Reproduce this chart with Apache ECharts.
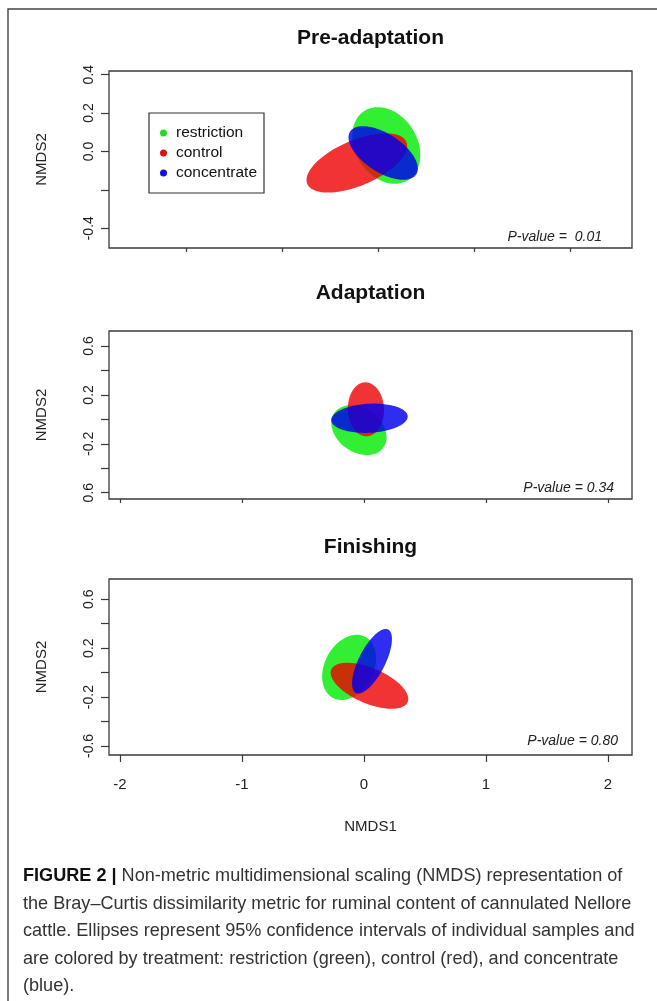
<!DOCTYPE html>
<html>
<head>
<meta charset="utf-8">
<script src="https://cdn.jsdelivr.net/npm/echarts@6/dist/echarts.min.js"></script>
<style>
  html, body { margin: 0; padding: 0; background: #fff; }
  #chart { width: 657px; height: 1001px; }
</style>
</head>
<body>
<div id="chart"></div>
<script>
// ---------- DATA ----------
const groups = ['restriction', 'control', 'concentrate'];
const panelTitles = ['Pre-adaptation', 'Adaptation', 'Finishing'];
const pValues = ['P-value =  0.01', 'P-value = 0.34', 'P-value = 0.80'];

// ellipses: [centre NMDS1, centre NMDS2, semi-major, semi-minor, angle (deg)]
const preRestriction = [0.042, 0.031, 0.213, 0.161, -58];
const preControl = [-0.111, -0.060, 0.280, 0.118, 23];
const preConcentrate = [0.026, -0.008, 0.205, 0.100, -33];

const adaRestriction = [-0.041, -0.088, 0.246, 0.180, -35];
const adaControl = [0.016, 0.082, 0.221, 0.148, 92];
const adaConcentrate = [0.045, 0.009, 0.314, 0.119, 3];

const finRestriction = [-0.122, 0.043, 0.283, 0.200, 62];
const finControl = [0.045, -0.108, 0.340, 0.145, -23];
const finConcentrate = [0.066, 0.093, 0.291, 0.108, 63];

// axis ranges
const preXRange = [-1.40, 1.32];
const preYRange = [-0.503, 0.419];
const adaXRange = [-2.09, 2.197];
const adaYRange = [-0.652, 0.723];
const finXRange = [-2.09, 2.197];
const finYRange = [-0.674, 0.766];

// ticks and tick labels
const preXTicks = [-1, -0.5, 0, 0.5, 1];
const preYTicks = [-0.4, -0.2, 0, 0.2, 0.4];
const preYLabelValues = [0.4, 0.2, 0, -0.4];
const preYLabelTexts = ['0.4', '0.2', '0.0', '-0.4'];

const adaXTicks = [-2, -1, 0, 1, 2];
const adaYTicks = [-0.6, -0.4, -0.2, 0, 0.2, 0.4, 0.6];
const adaYLabelValues = [0.6, 0.2, -0.2, -0.6];
const adaYLabelTexts = ['0.6', '0.2', '-0.2', '0.6'];

const finXTicks = [-2, -1, 0, 1, 2];
const finXLabelTexts = ['-2', '-1', '0', '1', '2'];
const finYTicks = [-0.6, -0.4, -0.2, 0, 0.2, 0.4, 0.6];
const finYLabelValues = [0.6, 0.2, -0.2, -0.6];
const finYLabelTexts = ['0.6', '0.2', '-0.2', '-0.6'];

const captionLines = [
  'Non-metric multidimensional scaling (NMDS) representation of',
  'the Bray\u2013Curtis dissimilarity metric for ruminal content of cannulated Nellore',
  'cattle. Ellipses represent 95% confidence intervals of individual samples and',
  'are colored by treatment: restriction (green), control (red), and concentrate',
  '(blue).'
];

// ---------- STYLE ----------
const FONT = "'Liberation Sans', Arial, Helvetica, sans-serif";
const fills = ['rgba(0,235,0,0.80)', 'rgba(238,0,0,0.80)', 'rgba(0,0,238,0.82)'];
const dotColors = ['#22dd22', '#e01010', '#1010e0'];

function labelFormatter(values, texts) {
  return function (v) {
    const i = values.findIndex(x => Math.abs(x - v) < 1e-9);
    return i >= 0 ? texts[i] : '';
  };
}

function renderEllipse(params, api) {
  const cx = api.value(0), cy = api.value(1), a = api.value(2), b = api.value(3);
  const ang = api.value(4) * Math.PI / 180;
  const pts = [];
  const n = 120;
  for (let i = 0; i < n; i++) {
    const t = i / n * Math.PI * 2;
    const x = cx + a * Math.cos(t) * Math.cos(ang) - b * Math.sin(t) * Math.sin(ang);
    const y = cy + a * Math.cos(t) * Math.sin(ang) + b * Math.sin(t) * Math.cos(ang);
    pts.push(api.coord([x, y]));
  }
  return { type: 'polygon', shape: { points: pts }, style: api.style() };
}

const grids = [
  { left: 109, top: 71, width: 523, height: 177 },
  { left: 109, top: 331, width: 523, height: 168 },
  { left: 109, top: 579, width: 523, height: 176 }
].map(g => Object.assign(g, { show: true, borderColor: '#3a3a3a', borderWidth: 1.3, backgroundColor: 'transparent' }));

function xAxis(idx, range, ticks, labelTexts, tickLen, withName) {
  return {
    type: 'value', gridIndex: idx, min: range[0], max: range[1], position: 'bottom',
    splitLine: { show: false },
    axisLine: { show: false, onZero: false },
    axisTick: { show: true, length: tickLen, customValues: ticks, lineStyle: { color: '#3a3a3a', width: 1.2 } },
    axisLabel: labelTexts ? {
      show: true, customValues: ticks, margin: 22, fontSize: 15, color: '#222', fontFamily: FONT,
      formatter: labelFormatter(ticks, labelTexts)
    } : { show: false },
    name: withName ? 'NMDS1' : '',
    nameLocation: 'middle', nameGap: 64,
    nameTextStyle: { fontSize: 15, color: '#222', fontFamily: FONT }
  };
}

function yAxis(idx, range, ticks, labelValues, labelTexts) {
  return {
    type: 'value', gridIndex: idx, min: range[0], max: range[1], position: 'left',
    splitLine: { show: false },
    axisLine: { show: false, onZero: false },
    axisTick: { show: true, length: 8, customValues: ticks, lineStyle: { color: '#3a3a3a', width: 1.2 } },
    axisLabel: {
      show: true, customValues: labelValues, rotate: 90, margin: 13, fontSize: 14, color: '#222', fontFamily: FONT,
      formatter: labelFormatter(labelValues, labelTexts)
    },
    name: 'NMDS2', nameLocation: 'middle', nameGap: 60, nameRotate: 90,
    nameTextStyle: { fontSize: 15, color: '#222', fontFamily: FONT }
  };
}

const panelEllipses = [
  [preRestriction, preControl, preConcentrate],
  [adaRestriction, adaControl, adaConcentrate],
  [finRestriction, finControl, finConcentrate]
];

const series = [];
panelEllipses.forEach((list, p) => {
  list.forEach((ell, g) => {
    series.push({
      type: 'custom', name: groups[g], xAxisIndex: p, yAxisIndex: p,
      renderItem: renderEllipse,
      itemStyle: { color: fills[g] },
      encode: { x: 0, y: 1 },
      data: [ell],
      silent: true, animation: false
    });
  });
});

const titleY = [38, 293, 547];
const pvPos = [[602, 237], [614, 488], [618, 741]];

const graphics = [];
graphics.push({
  type: 'polyline', shape: { points: [[8, 1010], [8, 9], [670, 9]] },
  style: { stroke: '#444', lineWidth: 1.4, fill: null }, silent: true
});
panelTitles.forEach((t, i) => {
  graphics.push({
    type: 'text', x: 370.5, y: titleY[i],
    style: { text: t, fontSize: 21, fontWeight: 'bold', fontFamily: FONT, fill: '#111', align: 'center', verticalAlign: 'middle' }
  });
});
pValues.forEach((t, i) => {
  graphics.push({
    type: 'text', x: pvPos[i][0], y: pvPos[i][1],
    style: { text: t, fontSize: 14, fontStyle: 'italic', fontFamily: FONT, fill: '#222', align: 'right', verticalAlign: 'middle' }
  });
});
const capTop = [876, 903.5, 931, 958.5, 986];
captionLines.forEach((line, i) => {
  graphics.push({
    type: 'text', x: 23, y: capTop[i],
    style: {
      text: i === 0 ? '{b|FIGURE 2 |} ' + line : line,
      fontSize: 18.1, fontFamily: FONT, fill: '#333', align: 'left', verticalAlign: 'middle',
      rich: { b: { fontSize: 18.1, fontWeight: 'bold', fontFamily: FONT, fill: '#111' } }
    }
  });
});

const option = {
  backgroundColor: '#fff',
  animation: false,
  grid: grids,
  xAxis: [
    xAxis(0, preXRange, preXTicks, null, 4, false),
    xAxis(1, adaXRange, adaXTicks, null, 4, false),
    xAxis(2, finXRange, finXTicks, finXLabelTexts, 7, true)
  ],
  yAxis: [
    yAxis(0, preYRange, preYTicks, preYLabelValues, preYLabelTexts),
    yAxis(1, adaYRange, adaYTicks, adaYLabelValues, adaYLabelTexts),
    yAxis(2, finYRange, finYTicks, finYLabelValues, finYLabelTexts)
  ],
  legend: {
    left: 149, top: 113, orient: 'vertical',
    data: groups.map((g, i) => ({ name: g, icon: 'circle', itemStyle: { color: dotColors[i] } })),
    itemWidth: 7, itemHeight: 7, itemGap: 4,
    padding: [12, 7, 12, 11],
    borderColor: '#333', borderWidth: 1.2, backgroundColor: '#fff',
    selectedMode: false,
    textStyle: { fontSize: 15.5, color: '#111', fontFamily: FONT, padding: [0, 0, 0, 4], lineHeight: 15 }
  },
  graphic: graphics,
  series: series
};

const chart = echarts.init(document.getElementById('chart'), null, { renderer: 'canvas' });
chart.setOption(option);
</script>
</body>
</html>
